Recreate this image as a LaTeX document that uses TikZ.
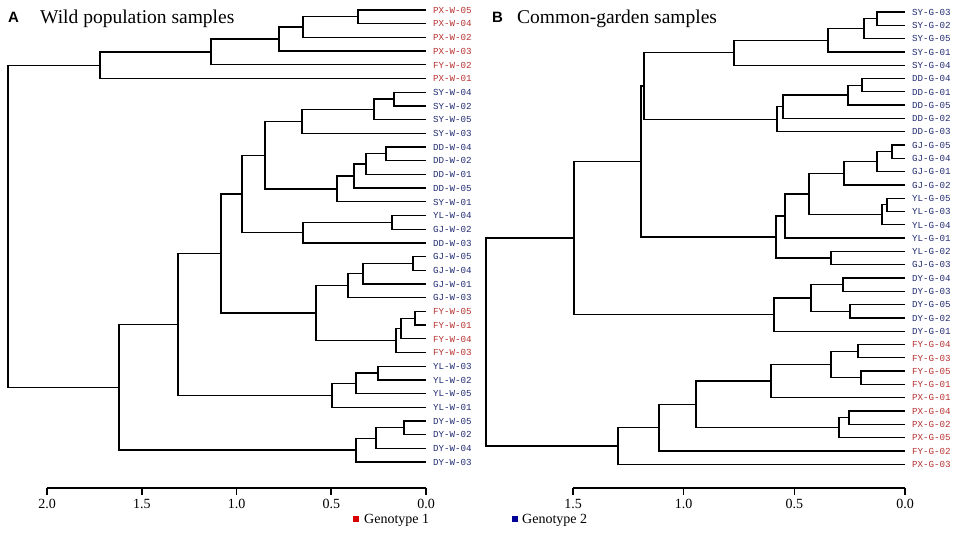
\documentclass[tikz,border=0pt]{standalone}
\usepackage{fontspec}
\setmainfont{Liberation Serif}
\newfontfamily\labfont{Liberation Mono}
\newfontfamily\hdfont{Liberation Sans}
\usetikzlibrary{calc}
\definecolor{gred}{RGB}{185,50,50}
\definecolor{gblue}{RGB}{35,45,115}
\definecolor{sqred}{RGB}{215,0,0}
\definecolor{sqblue}{RGB}{0,0,150}
\tikzset{
  br/.style={line width=1.25pt, line cap=rect},
  ax/.style={line width=1.6pt},
  leaf/.style={anchor=west, font=\labfont\fontsize{9.2}{10}\selectfont, inner xsep=4pt, outer xsep=4pt, inner ysep=0pt, outer ysep=0pt, text height=6.5pt, text depth=0pt},
  ticklab/.style={font=\fontsize{14}{14}\selectfont, inner sep=0pt, text height=9.5pt, text depth=0pt},
  legtext/.style={anchor=west, font=\fontsize{14}{14}\selectfont, inner sep=0pt, text height=9.5pt, text depth=2pt},
  ttl/.style={anchor=base west, font=\fontsize{19.5}{20}\selectfont, inner sep=0pt},
  panel/.style={anchor=base west, font=\hdfont\bfseries\fontsize{15}{15}\selectfont, inner sep=0pt}
}
\newcommand\jn[4]{%
  \path let \p1=(#3), \p2=(#4) in (#2pt,{0.5*\y1+0.5*\y2}) coordinate (#1);
  \draw[br] (#1) |- (#3);
  \draw[br] (#1) |- (#4);}
\begin{document}
\begin{tikzpicture}[x=1pt,y=-1pt]
\useasboundingbox[fill=white] (0,0) rectangle (964,540);
% titles
\node[panel] (pA) at (8,23) {A};
\node[ttl] (tA) at (40,24) {Wild population samples};
\node[panel] (pB) at (492,23) {B};
\node[ttl] (tB) at (517,24) {Common-garden samples};
% leaves A
\foreach \t/\c [count=\i from 0] in {PX-W-05/gred,PX-W-04/gred,PX-W-02/gred,PX-W-03/gred,FY-W-02/gred,PX-W-01/gred,SY-W-04/gblue,SY-W-02/gblue,SY-W-05/gblue,SY-W-03/gblue,DD-W-04/gblue,DD-W-02/gblue,DD-W-01/gblue,DD-W-05/gblue,SY-W-01/gblue,YL-W-04/gblue,GJ-W-02/gblue,DD-W-03/gblue,GJ-W-05/gblue,GJ-W-04/gblue,GJ-W-01/gblue,GJ-W-03/gblue,FY-W-05/gred,FY-W-01/gred,FY-W-04/gred,FY-W-03/gred,YL-W-03/gblue,YL-W-02/gblue,YL-W-05/gblue,YL-W-01/gblue,DY-W-05/gblue,DY-W-02/gblue,DY-W-04/gblue,DY-W-03/gblue}
  \node[leaf,text=\c] (A\i) at (425,{10+13.7*\i}) {\t};
% tree A
\jn{a1}{358}{A0}{A1}
\jn{a2}{303}{a1}{A2}
\jn{a3}{279}{a2}{A3}
\jn{a4}{211}{a3}{A4}
\jn{a5}{100}{a4}{A5}
\jn{s1}{394}{A6}{A7}
\jn{s2}{374}{s1}{A8}
\jn{s3}{302}{s2}{A9}
\jn{d1}{386}{A10}{A11}
\jn{d2}{366}{d1}{A12}
\jn{d3}{354}{d2}{A13}
\jn{d4}{337}{d3}{A14}
\jn{m1}{265}{s3}{d4}
\jn{y1}{392}{A15}{A16}
\jn{y2}{303}{y1}{A17}
\jn{m2}{242}{m1}{y2}
\jn{g1}{413}{A18}{A19}
\jn{g2}{363}{g1}{A20}
\jn{g3}{348}{g2}{A21}
\jn{f1}{415}{A22}{A23}
\jn{f2}{401}{f1}{A24}
\jn{f3}{396}{f2}{A25}
\jn{m3}{316}{g3}{f3}
\jn{m4}{221}{m2}{m3}
\jn{l1}{378}{A26}{A27}
\jn{l2}{356}{l1}{A28}
\jn{l3}{332}{l2}{A29}
\jn{m5}{178}{m4}{l3}
\jn{q1}{404}{A30}{A31}
\jn{q2}{376}{q1}{A32}
\jn{q3}{356}{q2}{A33}
\jn{m6}{119}{m5}{q3}
\jn{rA}{8}{a5}{m6}
% leaves B
\foreach \t/\c [count=\i from 0] in {SY-G-03/gblue,SY-G-02/gblue,SY-G-05/gblue,SY-G-01/gblue,SY-G-04/gblue,DD-G-04/gblue,DD-G-01/gblue,DD-G-05/gblue,DD-G-02/gblue,DD-G-03/gblue,GJ-G-05/gblue,GJ-G-04/gblue,GJ-G-01/gblue,GJ-G-02/gblue,YL-G-05/gblue,YL-G-03/gblue,YL-G-04/gblue,YL-G-01/gblue,YL-G-02/gblue,GJ-G-03/gblue,DY-G-04/gblue,DY-G-03/gblue,DY-G-05/gblue,DY-G-02/gblue,DY-G-01/gblue,FY-G-04/gred,FY-G-03/gred,FY-G-05/gred,FY-G-01/gred,PX-G-01/gred,PX-G-04/gred,PX-G-02/gred,PX-G-05/gred,FY-G-02/gred,PX-G-03/gred}
  \node[leaf,text=\c] (B\i) at (904,{12+13.3*\i}) {\t};
% tree B
\jn{b1}{877}{B0}{B1}
\jn{b2}{864}{b1}{B2}
\jn{b3}{828}{b2}{B3}
\jn{b4}{734}{b3}{B4}
\jn{e1}{862}{B5}{B6}
\jn{e2}{848}{e1}{B7}
\jn{e3}{783}{e2}{B8}
\jn{e4}{777}{e3}{B9}
\jn{n1}{644}{b4}{e4}
\jn{j1}{892}{B10}{B11}
\jn{j2}{877}{j1}{B12}
\jn{j3}{844}{j2}{B13}
\jn{k1}{887}{B14}{B15}
\jn{k2}{882}{k1}{B16}
\jn{n2}{809}{j3}{k2}
\jn{n3}{785}{n2}{B17}
\jn{k3}{831}{B18}{B19}
\jn{n4}{776}{n3}{k3}
\jn{n5}{641}{n1}{n4}
\jn{v1}{843}{B20}{B21}
\jn{v2}{850}{B22}{B23}
\jn{v3}{811}{v1}{v2}
\jn{v4}{774}{v3}{B24}
\jn{n6}{574}{n5}{v4}
\jn{h1}{858}{B25}{B26}
\jn{h2}{861}{B27}{B28}
\jn{h3}{831}{h1}{h2}
\jn{h4}{771}{h3}{B29}
\jn{p1}{849}{B30}{B31}
\jn{p2}{839}{p1}{B32}
\jn{n7}{696}{h4}{p2}
\jn{n8}{659}{n7}{B33}
\jn{n9}{618}{n8}{B34}
\jn{rB}{486}{n6}{n9}
% axis A
\draw[ax] (47,488) -- (426,488);
\foreach \xx/\tl [count=\k] in {47/2.0,141.75/1.5,236.5/1.0,331.25/0.5,426/0.0}{
  \draw[ax] (\xx,488) -- (\xx,495);
  \node[ticklab] (ta\k) at (\xx,503.5) {\tl};}
% axis B
\draw[ax] (573,488) -- (905,488);
\foreach \xx/\tl [count=\k] in {573/1.5,683.67/1.0,794.33/0.5,905/0.0}{
  \draw[ax] (\xx,488) -- (\xx,495);
  \node[ticklab] (tb\k) at (\xx,503.5) {\tl};}
% legend
\node[fill=sqred, minimum size=6pt, inner sep=0pt] (sq1) at (356,519) {};
\node[legtext] (lg1) at (364,520) {Genotype 1};
\node[fill=sqblue, minimum size=6pt, inner sep=0pt] (sq2) at (515,519) {};
\node[legtext] (lg2) at (522,520) {Genotype 2};
\end{tikzpicture}
\end{document}
